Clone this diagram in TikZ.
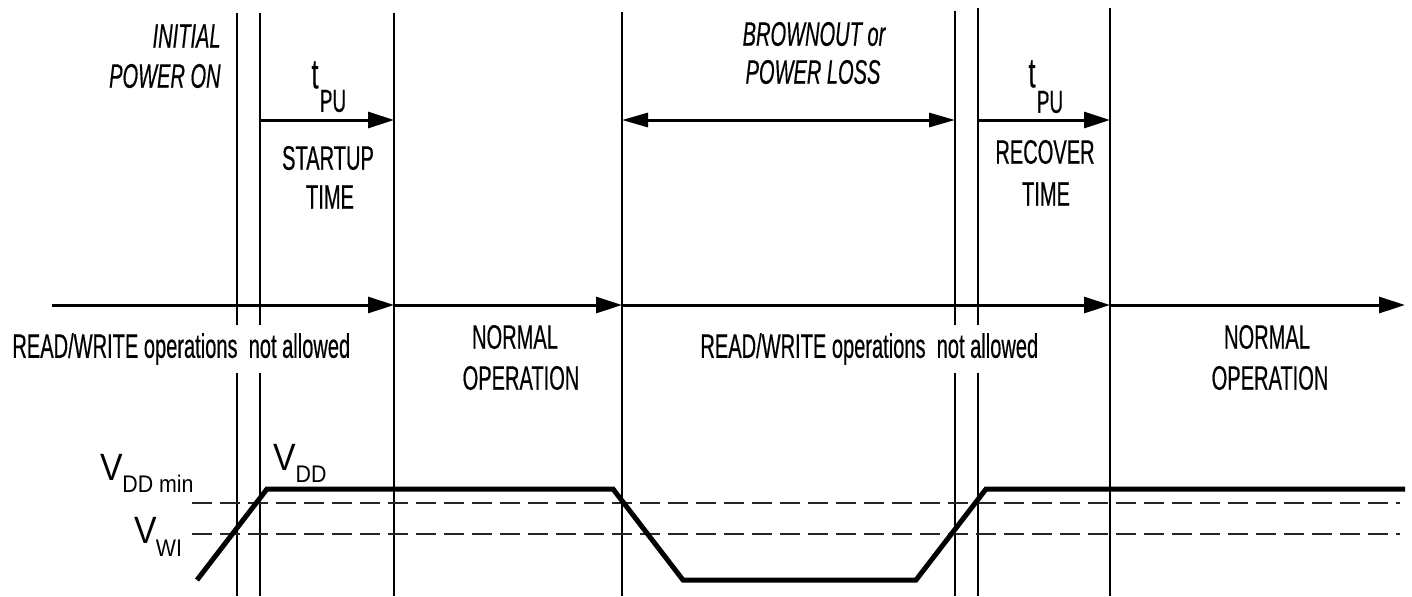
\documentclass[tikz,border=0pt]{standalone}
\usepackage{fontspec}
\usepackage{tikz}
\usetikzlibrary{arrows.meta}
\newfontfamily\condfont[FakeStretch=0.59, FakeBold=0.4]{Liberation Sans}
\newfontfamily\voltfont[FakeStretch=0.89]{Liberation Sans}

\tikzset{
  lbl/.style={font=\condfont\fontsize{17}{20}\selectfont, inner sep=0pt},
  ilbl/.style={font=\condfont\itshape\fontsize{17}{20}\selectfont, inner sep=0pt},
  tlbl/.style={font=\condfont\fontsize{21}{24}\selectfont, inner sep=0pt},
  sublbl/.style={font=\condfont\fontsize{16}{19}\selectfont, inner sep=0pt},
  vbig/.style={font=\voltfont\fontsize{19}{22}\selectfont, inner sep=0pt},
  vsub/.style={font=\voltfont\fontsize{12}{14}\selectfont, inner sep=0pt},
  gridline/.style={line width=0.8pt},
  axis/.style={line width=1.5pt, -{Triangle[length=13pt, width=8pt]}},
  span/.style={line width=1.5pt, {Triangle[length=13pt, width=7pt]}-{Triangle[length=13pt, width=7pt]}},
  level/.style={line width=0.8pt, black!85, dash pattern=on 10pt off 4pt},
  trace/.style={line width=2.5pt, line join=miter}
}

\begin{document}
\begin{tikzpicture}[x=0.5pt, y=-0.5pt]
\useasboundingbox (0,0) rectangle (1412,596);
% time markers
\foreach \xx/\yy in {237/13, 260/13, 394/13, 622/12, 955/11, 978/8, 1110/8}
  \draw[gridline] (\xx,\yy) -- (\xx,596);
% threshold levels
\coordinate (dmin0) at (192,503);
\coordinate (dmin1) at (1400,503);
\coordinate (wi0) at (192,534);
\coordinate (wi1) at (1400,534);
\draw[level] (dmin0) -- (dmin1);
\draw[level] (wi0) -- (wi1);
% supply voltage
\coordinate (v0) at (197,580);
\coordinate (v1) at (267,489);
\coordinate (v2) at (613,489);
\coordinate (v3) at (683,580);
\coordinate (v4) at (916,580);
\coordinate (v5) at (986,489);
\coordinate (v6) at (1405,489);
\draw[trace] (v0) -- (v1) -- (v2) -- (v3) -- (v4) -- (v5) -- (v6);
% time axis
\coordinate (ax0) at (52,305);
\coordinate (ax1) at (394,305);
\coordinate (ax2) at (622,305);
\coordinate (ax3) at (1110,305);
\coordinate (ax4) at (1405,305);
\draw[axis] (ax0) -- (ax1);
\draw[axis] (ax1) -- (ax2);
\draw[axis] (ax2) -- (ax3);
\draw[axis] (ax3) -- (ax4);
% durations
\coordinate (su0) at (260,120);
\coordinate (su1) at (394,120);
\coordinate (bo0) at (622,120);
\coordinate (bo1) at (955,120);
\coordinate (rc0) at (978,120);
\coordinate (rc1) at (1110,120);
\draw[axis] (su0) -- (su1);
\draw[span] (bo0) -- (bo1);
\draw[axis] (rc0) -- (rc1);
% labels
\node[ilbl, anchor=east] (initA) at (221,36) {INITIAL};
\node[ilbl, anchor=east] (initB) at (221,76) {POWER ON};
\node[tlbl] (tpuA) at (315,75) {t};
\node[sublbl] (tpuAs) at (333,101) {PU};
\node[lbl] (startA) at (328,158) {STARTUP};
\node[lbl] (startB) at (330,197) {TIME};
\node[ilbl] (brownA) at (814,34) {BROWNOUT or};
\node[ilbl] (brownB) at (813,72) {POWER LOSS};
\node[tlbl] (tpuB) at (1032,74) {t};
\node[sublbl] (tpuBs) at (1050,102) {PU};
\node[lbl] (recA) at (1045,152) {RECOVER};
\node[lbl] (recB) at (1046,194) {TIME};
\node[lbl, anchor=west, fill=white, inner ysep=4pt] (rwA) at (12,349) {READ/WRITE operations\ \ not allowed};
\node[lbl, anchor=west, fill=white, inner ysep=4pt] (rwB) at (700,349) {READ/WRITE operations\ \ not allowed};
\node[lbl] (normA) at (515,337) {NORMAL};
\node[lbl] (normB) at (521,378) {OPERATION};
\node[lbl] (normC) at (1267,337) {NORMAL};
\node[lbl] (normD) at (1270,378) {OPERATION};
\node[vbig] (vdmin) at (112,467) {V};
\node[vsub] (vdminS) at (158,484) {DD min};
\node[vbig] (vwi) at (146,530) {V};
\node[vsub] (vwiS) at (169,548) {WI};
\node[vbig] (vdd) at (285,457) {V};
\node[vsub] (vddS) at (311,474) {DD};
\end{tikzpicture}
\end{document}
